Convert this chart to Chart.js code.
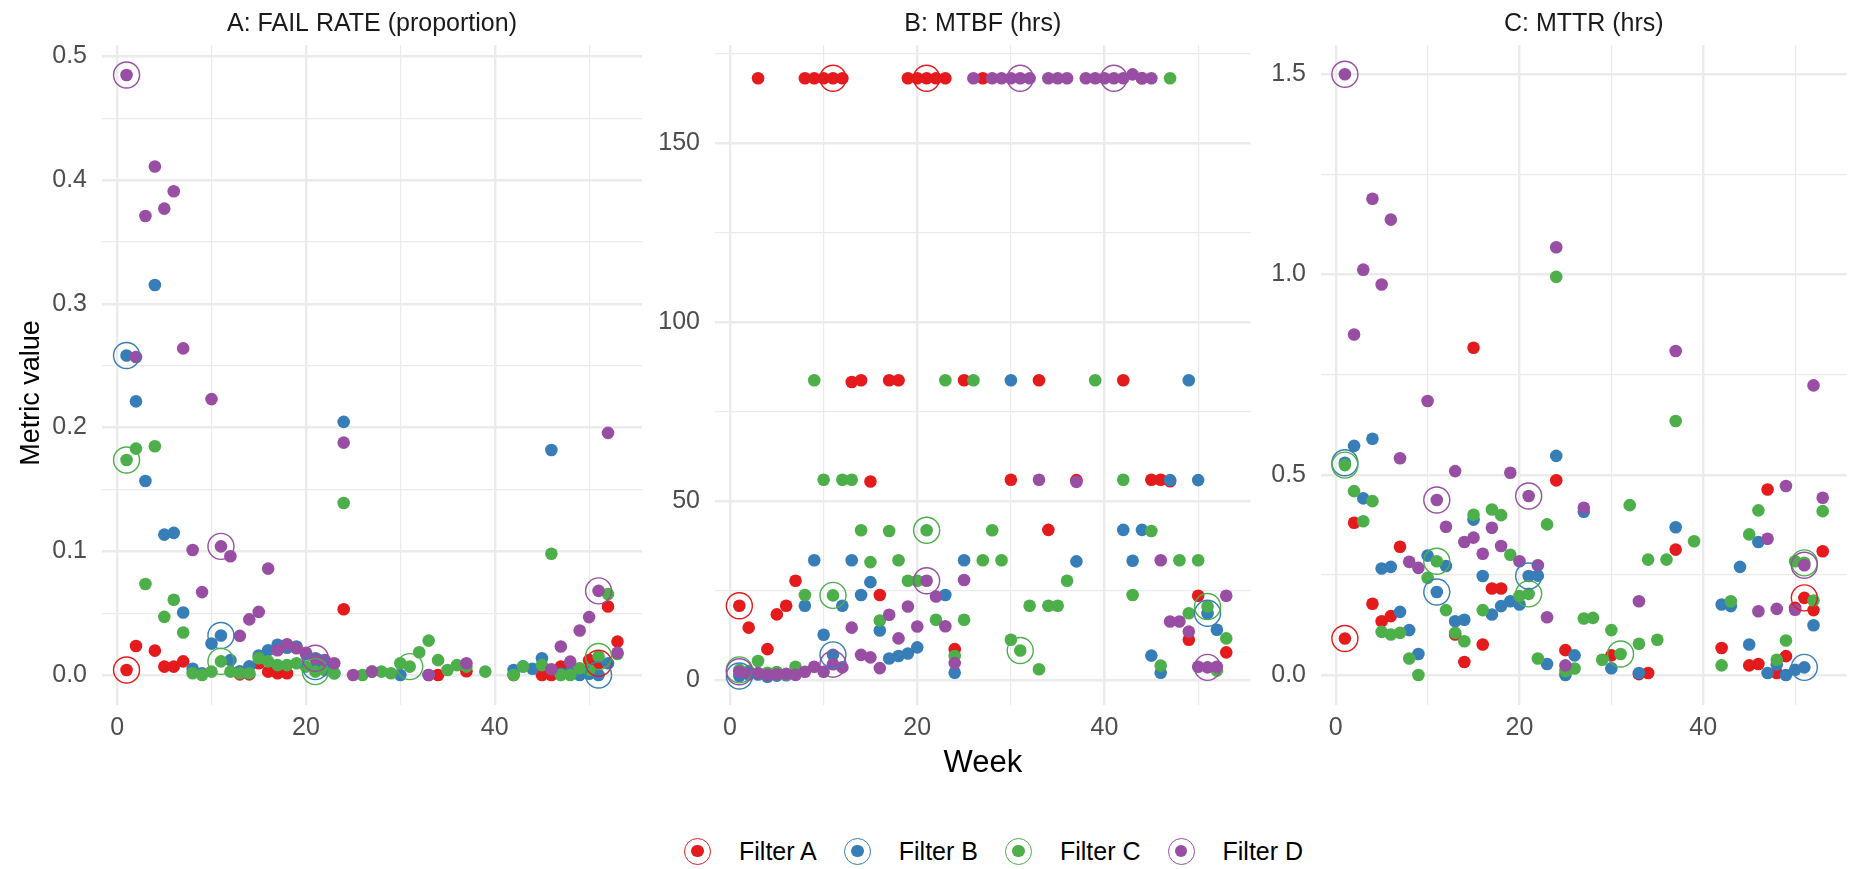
<!DOCTYPE html>
<html>
<head>
<meta charset="utf-8">
<title>Weekly reliability metrics by filter</title>
<script src="https://cdn.jsdelivr.net/npm/chart.js@4.4.1/dist/chart.umd.min.js"></script>
<style>
  html, body { margin: 0; padding: 0; background: #fff; }
  #wrap { position: relative; width: 1861px; height: 869px; overflow: hidden; font-family: "Liberation Sans", Arial, sans-serif; }
  canvas { position: absolute; top: 0; }
  #legend { position: absolute; left: 684px; top: 836px; height: 30px; display: flex; align-items: center; gap: 27px; font-size: 25px; color: #000; }
  .item { display: flex; align-items: center; }
  .ring { box-sizing: border-box; width: 27px; height: 27px; border-radius: 50%; border: 1.4px solid; display: flex; align-items: center; justify-content: center; margin-right: 28px; }
  .dot { width: 12.5px; height: 12.5px; border-radius: 50%; }
</style>
</head>
<body>
<div id="wrap">
  <canvas id="chartA" width="660" height="800" style="left:0"></canvas>
  <canvas id="chartB" width="605" height="800" style="left:660px"></canvas>
  <canvas id="chartC" width="596" height="800" style="left:1265px"></canvas>
  <div id="legend"></div>
</div>
<script>
const weeks = [1, 2, 3, 4, 5, 6, 7, 8, 9, 10, 11, 12, 13, 14, 15, 16, 17, 18, 19, 20,
  21, 22, 23, 24, 25, 26, 27, 28, 29, 30, 31, 32, 33, 34, 35, 36, 37, 38, 39, 40,
  41, 42, 43, 44, 45, 46, 47, 48, 49, 50, 51, 52, 53];
const highlightWeeks = [1, 11, 21, 31, 41, 51];
const filterNames = ['Filter A', 'Filter B', 'Filter C', 'Filter D'];
const filterColors = ['#E41A1C', '#377EB8', '#4DAF4A', '#984EA3'];

// axis labels
const weekTicks = [0, 20, 40];
const failRateTicks = [0.0, 0.1, 0.2, 0.3, 0.4, 0.5];
const mtbfTicks = [0, 50, 100, 150];
const mttrTicks = [0.0, 0.5, 1.0, 1.5];

// fail rate (proportion), one value per week, null = no data
const failRateA = [0.004, 0.0235, null, 0.0197, 0.0068, 0.0068, 0.011, null, null, null,
  null, null, 0.0005, 0.0005, 0.0095, 0.0027, 0.0014, 0.0014, null, null,
  null, null, null, 0.0532, null, null, null, null, null, null,
  null, null, null, 0, null, null, 0.003, null, null, null,
  null, 0, null, null, 0, 0, 0.0068, null, null, 0.012,
  0.0095, 0.0554, 0.027];
const failRateB = [0.2583, 0.2212, 0.1568, 0.3153, 0.1135, 0.1149, 0.0505, 0.005, 0.0013, 0.0254,
  0.0319, 0.012, 0.003, 0.007, 0.0157, 0.02, 0.0245, 0.022, 0.023, 0.017,
  0.0068, null, 0.0014, 0.2046, null, null, null, null, null, 0,
  null, null, 0, null, null, null, null, null, null, null,
  null, 0.004, 0.007, 0.005, 0.0135, 0.1819, 0.001, 0.002, 0, 0.001,
  0, 0.0095, null];
const failRateC = [0.1738, 0.183, 0.0735, 0.1849, 0.047, 0.0608, 0.0343, 0.0014, 0, 0.0027,
  0.011, 0.0027, 0.0014, 0.0014, 0.0135, 0.011, 0.008, 0.008, 0.0095, 0.0068,
  0.0027, 0.004, 0.0014, 0.139, null, 0, 0.0027, 0.0027, 0.0014, 0.0095,
  0.0068, 0.0184, 0.0278, 0.012, 0.004, 0.008, 0.0068, null, 0.0027, null,
  null, 0, 0.0068, null, 0.008, 0.098, 0, 0, 0.0054, 0.004,
  0.015, 0.0654, 0.017];
const failRateD = [0.485, 0.257, 0.371, 0.411, 0.377, 0.391, 0.264, 0.101, 0.067, 0.223,
  0.104, 0.096, 0.0316, 0.045, 0.051, 0.086, 0.02, 0.0249, 0.0216, 0.018,
  0.0135, 0.012, 0.0095, 0.1878, 0, null, 0.0027, null, null, null,
  null, null, 0, null, null, null, 0.0095, null, null, null,
  null, null, null, null, null, 0.0046, 0.023, 0.0108, 0.036, 0.0468,
  0.068, 0.1957, 0.018];

// mean time between failures (hours)
const mtbfA = [20.7, 14.6, 168, 8.6, 18.3, 20.7, 27.7, 168, 168, 168,
  168, 168, 83.2, 83.7, 55.4, 23.7, 83.7, 83.7, 168, 168,
  168, 168, 168, 8.6, 83.7, null, 168, null, null, 55.9,
  null, null, 83.7, 41.9, null, null, 55.8, null, null, null,
  null, 83.7, null, 168, 55.9, 55.9, 55.5, null, 11.2, 23.5,
  null, null, 7.7];
const mtbfB = [1.1, 1.5, 1.5, 0.9, 1.2, 1.3, 1.5, 20.7, 33.4, 12.6,
  7.0, 20.7, 33.4, 23.7, 27.3, 13.8, 6.0, 6.7, 7.4, 9.1,
  null, null, 23.7, 2.0, 33.4, null, null, null, null, 83.7,
  null, null, null, null, null, null, 33.1, null, null, null,
  null, 41.9, 33.3, 41.9, 6.8, 2.0, 55.8, null, 83.7, 55.8,
  18.6, 14.0, null];
const mtbfC = [2.8, 2.5, 5.3, 2.0, 2.2, 1.5, 3.7, 23.7, 83.7, 55.9,
  23.6, 55.9, 55.9, 41.8, 32.9, 16.6, 41.6, 33.4, 27.7, 27.7,
  41.8, 16.8, 83.7, 6.7, 16.8, 83.7, 33.4, 41.8, 33.4, 11.2,
  8.2, 20.7, 3.0, 20.7, 20.7, 27.7, null, null, 83.7, null,
  null, 55.9, 23.7, null, 41.6, 4.0, 168, 33.4, 18.6, 33.4,
  20.5, 2.6, 11.6];
const mtbfD = [2.3, 2.0, 1.9, 1.4, 1.6, 1.7, 1.4, 2.3, 3.7, 2.3,
  4.4, 3.5, 14.6, 7.0, 6.3, 3.3, 18.2, 11.6, 20.5, 14.9,
  27.7, 23.3, 15.0, 4.7, 27.9, 168, null, 168, 168, 168,
  168, 168, 55.9, 168, 168, 168, 55.3, 168, 168, 168,
  168, 168, 169.1, 168, 168, 33.4, 16.3, 16.3, 13.5, 3.7,
  3.5, 3.7, 23.5];

// mean time to repair (hours)
const mttrA = [0.091, 0.38, null, 0.178, 0.134, 0.147, 0.32, null, null, null,
  null, null, 0.101, 0.0325, 0.817, 0.076, 0.216, 0.216, null, null,
  null, null, null, 0.486, 0.062, null, null, null, null, 0.049,
  null, null, 0.002, 0.005, null, null, 0.313, null, null, null,
  null, 0.0675, null, null, 0.024, 0.0275, 0.463, 0.005, 0.047, 0.1675,
  0.1925, 0.162, 0.309];
const mttrB = [0.53, 0.572, 0.441, 0.59, 0.266, 0.27, 0.1575, 0.112, 0.0525, 0.298,
  0.207, 0.272, 0.134, 0.138, 0.388, 0.247, 0.151, 0.172, 0.184, 0.176,
  0.247, 0.248, 0.0275, 0.547, 0, 0.049, 0.4075, null, null, 0.0167,
  null, null, 0.005, null, null, null, 0.369, null, null, null,
  null, 0.176, 0.172, 0.27, 0.076, 0.332, 0.005, 0.026, 0, 0.013,
  0.019, 0.124, null];
const mttrC = [0.524, 0.459, 0.384, 0.434, 0.1075, 0.101, 0.105, 0.041, 0, 0.2425,
  0.284, 0.162, 0.105, 0.084, 0.40, 0.162, 0.413, 0.399, 0.30, 0.197,
  0.2025, 0.041, 0.376, 0.994, 0.01, 0.016, 0.141, 0.1425, 0.038, 0.112,
  0.0525, 0.424, 0.078, 0.288, 0.088, 0.288, 0.634, null, 0.334, null,
  null, 0.024, 0.184, null, 0.351, 0.411, null, 0.038, 0.086, 0.284,
  0.28, 0.186, 0.409];
const mttrD = [1.5, 0.85, 1.012, 1.189, 0.975, 1.137, 0.541, 0.2825, 0.2675, 0.684,
  0.437, 0.37, 0.509, 0.332, 0.343, 0.3025, 0.3675, 0.322, 0.505, 0.284,
  0.447, 0.274, 0.144, 1.068, 0.024, null, 0.4175, null, null, null,
  null, null, 0.184, null, null, null, 0.809, null, null, null,
  null, null, null, null, null, 0.159, 0.34, 0.165, 0.472, 0.163,
  0.274, 0.723, 0.4425];

Chart.defaults.font.family = '"Liberation Sans", Arial, sans-serif';
Chart.defaults.font.size = 25;

const FONT = '"Liberation Sans", Arial, sans-serif';

// facet strip label, centred over the plotting area
const stripTitle = {
  id: 'stripTitle',
  afterDraw(chart, args, opts) {
    const { ctx, chartArea } = chart;
    ctx.save();
    ctx.font = '25px ' + FONT;
    ctx.fillStyle = '#1A1A1A';
    ctx.textAlign = 'center';
    ctx.textBaseline = 'middle';
    ctx.fillText(opts.text, (chartArea.left + chartArea.right) / 2, chartArea.top - 21);
    ctx.restore();
  }
};

// shared y-axis title, placed against the whole figure rather than one panel
const sideTitle = {
  id: 'sideTitle',
  afterDraw(chart, args, opts) {
    if (!opts.text) return;
    const { ctx } = chart;
    ctx.save();
    ctx.translate(opts.x, opts.y);
    ctx.rotate(-Math.PI / 2);
    ctx.font = opts.size + 'px ' + FONT;
    ctx.fillStyle = '#000';
    ctx.textAlign = 'center';
    ctx.textBaseline = 'middle';
    ctx.fillText(opts.text, 0, 0);
    ctx.restore();
  }
};

function isOn(list, v) {
  return list.some(t => Math.abs(t - v) < 1e-9);
}

// major ticks plus the half-step minor lines that fall inside the range
function gridValues(major, min, max) {
  const half = (major[1] - major[0]) / 2;
  const out = [];
  for (let i = -1; i <= 2 * (major.length - 1) + 1; i++) {
    const v = major[0] + i * half;
    if (v >= min && v <= max) out.push(v);
  }
  return out;
}

function toPoints(values) {
  return weeks.map((w, i) => ({ x: w, y: values[i] })).filter(p => p.y !== null);
}

function makeChart(id, cfg) {
  const datasets = [];
  cfg.series.forEach((values, s) => {
    datasets.push({
      label: filterNames[s],
      data: toPoints(values),
      order: 10 - s,
      pointRadius: 6.3,
      pointHoverRadius: 6.3,
      pointBorderWidth: 0,
      pointBackgroundColor: filterColors[s],
      pointBorderColor: filterColors[s]
    });
  });
  // open rings marking every tenth week
  cfg.series.forEach((values, s) => {
    datasets.push({
      label: filterNames[s] + ' ring',
      data: toPoints(values).filter(p => highlightWeeks.includes(p.x)),
      order: 4 - s,
      pointRadius: 13,
      pointHoverRadius: 13,
      pointBorderWidth: 1.4,
      pointBackgroundColor: 'rgba(0,0,0,0)',
      pointBorderColor: filterColors[s]
    });
  });

  const xMin = -1.6, xMax = 55.6;
  const xGrid = gridValues(weekTicks, xMin, xMax);
  const yGrid = gridValues(cfg.yTicks, cfg.yMin, cfg.yMax);

  return new Chart(document.getElementById(id), {
    type: 'scatter',
    data: { datasets },
    plugins: [stripTitle, sideTitle],
    options: {
      responsive: false,
      animation: false,
      events: [],
      layout: { padding: { left: 0, right: cfg.padRight, top: 45, bottom: 0 } },
      plugins: {
        legend: { display: false },
        tooltip: { enabled: false },
        stripTitle: { text: cfg.title },
        sideTitle: cfg.yTitle || {}
      },
      scales: {
        x: {
          type: 'linear',
          min: xMin,
          max: xMax,
          bounds: 'data',
          afterBuildTicks: sc => { sc.ticks = xGrid.map(v => ({ value: v })); },
          afterFit: sc => { sc.height = 95; },
          ticks: {
            autoSkip: false, maxRotation: 0, padding: 8, color: '#4D4D4D',
            callback: v => isOn(weekTicks, v) ? String(Math.round(v)) : ''
          },
          grid: {
            color: '#EBEBEB', drawTicks: false,
            lineWidth: c => isOn(weekTicks, c.tick.value) ? 2.4 : 1.2
          },
          border: { display: false },
          title: {
            display: !!cfg.xTitle, text: cfg.xTitle || '', color: '#000',
            font: { size: 31 }, padding: { top: 0, bottom: 18 }
          }
        },
        y: {
          type: 'linear',
          min: cfg.yMin,
          max: cfg.yMax,
          bounds: 'data',
          afterBuildTicks: sc => { sc.ticks = yGrid.map(v => ({ value: v })); },
          afterFit: sc => { sc.width = cfg.yWidth; },
          ticks: {
            autoSkip: false, padding: 15, color: '#4D4D4D',
            callback: v => isOn(cfg.yTicks, v) ? v.toFixed(cfg.decimals) : ''
          },
          grid: {
            color: '#EBEBEB', drawTicks: false,
            lineWidth: c => isOn(cfg.yTicks, c.tick.value) ? 2.4 : 1.2
          },
          border: { display: false }
        }
      }
    }
  });
}

makeChart('chartA', {
  title: 'A: FAIL RATE (proportion)',
  series: [failRateA, failRateB, failRateC, failRateD],
  yTicks: failRateTicks, yMin: -0.02425, yMax: 0.50925, decimals: 1,
  yWidth: 102, padRight: 18,
  yTitle: { text: 'Metric value', x: 32, y: 393, size: 27 }
});

makeChart('chartB', {
  title: 'B: MTBF (hrs)',
  series: [mtbfA, mtbfB, mtbfC, mtbfD],
  yTicks: mtbfTicks, yMin: -7.0, yMax: 177.3, decimals: 0,
  yWidth: 55, padRight: 11, xTitle: 'Week'
});

makeChart('chartC', {
  title: 'C: MTTR (hrs)',
  series: [mttrA, mttrB, mttrC, mttrD],
  yTicks: mttrTicks, yMin: -0.075, yMax: 1.573, decimals: 1,
  yWidth: 56, padRight: 1
});

// shared legend under the panels
const legend = document.getElementById('legend');
filterNames.forEach((name, s) => {
  const item = document.createElement('div');
  item.className = 'item';
  const ring = document.createElement('span');
  ring.className = 'ring';
  ring.style.borderColor = filterColors[s];
  const dot = document.createElement('span');
  dot.className = 'dot';
  dot.style.background = filterColors[s];
  ring.appendChild(dot);
  const label = document.createElement('span');
  label.textContent = name;
  item.appendChild(ring);
  item.appendChild(label);
  legend.appendChild(item);
});
</script>
</body>
</html>
